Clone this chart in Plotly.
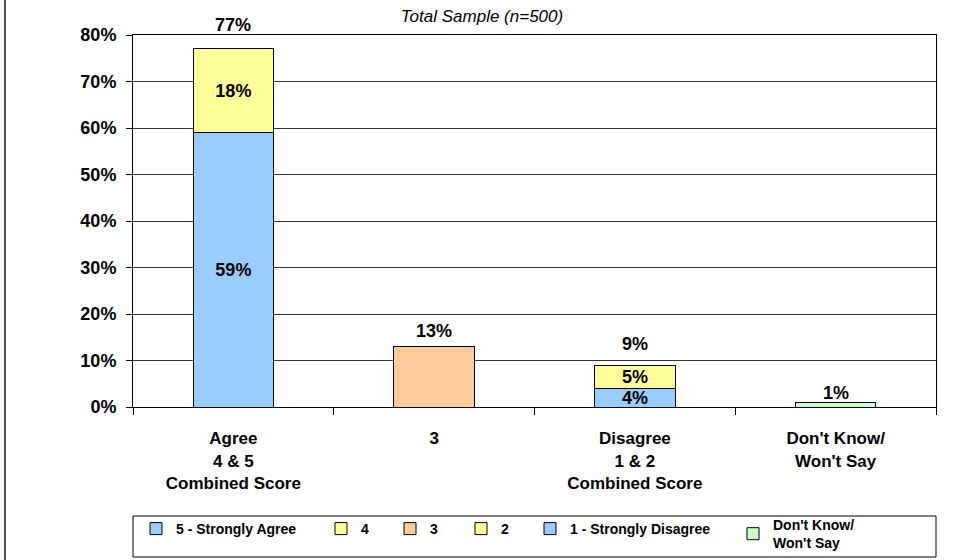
import plotly.graph_objects as go

# ---- data ----
categories = ["Agree<br>4 & 5<br>Combined Score", "3",
              "Disagree<br>1 & 2<br>Combined Score", "Don't Know/<br>Won't Say"]
series_names = ["5 - Strongly Agree", "4", "3", "2", "1 - Strongly Disagree",
                "Don't Know/<br>Won't Say"]
strongly_agree = [59, None, None, None]
agree_4 = [18, None, None, None]
neutral_3 = [None, 13, None, None]
disagree_2 = [None, None, 5, None]
strongly_disagree = [None, None, 4, None]
dont_know = [None, None, None, 1]
y_ticks = [0, 10, 20, 30, 40, 50, 60, 70, 80]
title_text = "Total Sample (n=500)"

# ---- style ----
FONT = "Liberation Sans, Arial, sans-serif"
colors = {"5 - Strongly Agree": "#99CCFF", "4": "#FFFF99", "3": "#FFCC99",
          "2": "#FFFF99", "1 - Strongly Disagree": "#99CCFF",
          "Don't Know/<br>Won't Say": "#CCFFCC"}
series_values = {"5 - Strongly Agree": strongly_agree, "4": agree_4, "3": neutral_3,
                 "2": disagree_2, "1 - Strongly Disagree": strongly_disagree,
                 "Don't Know/<br>Won't Say": dont_know}
inside_labels = {"5 - Strongly Agree", "4", "2", "1 - Strongly Disagree"}
# stacking order (bottom first) and legend slot of each series
stack_order = ["5 - Strongly Agree", "4", "3", "1 - Strongly Disagree", "2",
               "Don't Know/<br>Won't Say"]
legend_slot = {name: i for i, name in enumerate(series_names)}
legend_px = [158, 343, 412, 483, 552, 755]  # reference marker left edge, pixels
legend_top_px = [513, 513, 513, 513, 513, 509]

L, R, T, B = 133, 28, 35, 153
W, H = 964, 560
pw, ph = W - L - R, H - T - B


def px_to_paper_x(px):
    return (px - L) / pw


def py_to_paper_y(py):
    return (H - B - py) / ph


fig = go.Figure()
for name in stack_order:
    vals = series_values[name]
    slot = legend_slot[name]
    lg = "legend" if slot == 0 else f"legend{slot + 1}"
    fig.add_trace(go.Bar(
        x=categories, y=vals, name=name,
        marker=dict(color=colors[name], line=dict(color="black", width=1)),
        width=0.4,
        text=[(f"{v}%" if v is not None else "") for v in vals] if name in inside_labels else None,
        textposition="inside" if name in inside_labels else "none",
        insidetextanchor="middle",
        textangle=0,
        constraintext="none",
        textfont=dict(family=FONT, size=18, color="black", weight="bold"),
        legend=lg,
        hoverinfo="skip",
    ))

# totals above each bar
totals = [sum(v for v in (series_values[n][i] for n in series_names) if v is not None)
          for i in range(len(categories))]
total_shift = [24, 16, 21, 9]
for i in range(len(categories)):
    fig.add_annotation(x=i, y=totals[i], text=f"{totals[i]}%", showarrow=False,
                       xref="x", yref="y",
                       yanchor="middle", yshift=total_shift[i],
                       font=dict(family=FONT, size=18, color="black", weight="bold"))

# legends, one per series so that each entry sits where the reference has it
legend_common = dict(orientation="h", xanchor="left", yanchor="top",
                     bgcolor="rgba(0,0,0,0)", borderwidth=0, itemwidth=30,
                     valign="middle", itemclick=False, itemdoubleclick=False,
                     font=dict(family=FONT, size=14, color="black", weight="bold"))
layout_legends = {}
for i, px in enumerate(legend_px):
    key = "legend" if i == 0 else f"legend{i + 1}"
    layout_legends[key] = dict(x=px_to_paper_x(px - 22), y=py_to_paper_y(legend_top_px[i]),
                               **legend_common)

fig.update_layout(
    width=W, height=H,
    margin=dict(l=L, r=R, t=T, b=B, autoexpand=False),
    paper_bgcolor="white", plot_bgcolor="white",
    barmode="stack", bargap=0.6,
    showlegend=True,
    font=dict(family=FONT, color="black"),
    title=dict(text=title_text, x=0.5, xref="container",
               xanchor="center", y=1 - 16 / H, yanchor="middle",
               font=dict(family=FONT, size=17, style="italic", color="black")),
    xaxis=dict(type="category", showline=True, linecolor="black", linewidth=1,
               mirror=True, ticks="outside", tickson="boundaries", ticklen=7,
               tickcolor="black", showgrid=False, ticklabelstandoff=16,
               tickfont=dict(family=FONT, size=17, color="black", weight="bold")),
    yaxis=dict(range=[0, 80], tickvals=y_ticks, ticktext=[f"{v}%" for v in y_ticks],
               showline=True, linecolor="black", linewidth=1, mirror=True,
               ticks="outside", ticklen=6, tickcolor="black",
               showgrid=True, gridcolor="#333333", gridwidth=1,
               ticklabelstandoff=6, zeroline=False,
               tickfont=dict(family=FONT, size=18, color="black", weight="bold")),
    shapes=[
        # legend frame
        dict(type="rect", xref="paper", yref="paper", x0=0, x1=1,
             y0=py_to_paper_y(557), y1=py_to_paper_y(516),
             line=dict(color="black", width=1), fillcolor="rgba(0,0,0,0)"),
        # outer frame line at the left edge
        dict(type="line", xref="paper", yref="paper",
             x0=px_to_paper_x(5), x1=px_to_paper_x(5),
             y0=py_to_paper_y(H), y1=py_to_paper_y(0),
             line=dict(color="#555555", width=2)),
    ],
    **layout_legends,
)

fig.write_html("out.html", config={"displayModeBar": False},
               post_script="document.body.style.margin='0px';")
